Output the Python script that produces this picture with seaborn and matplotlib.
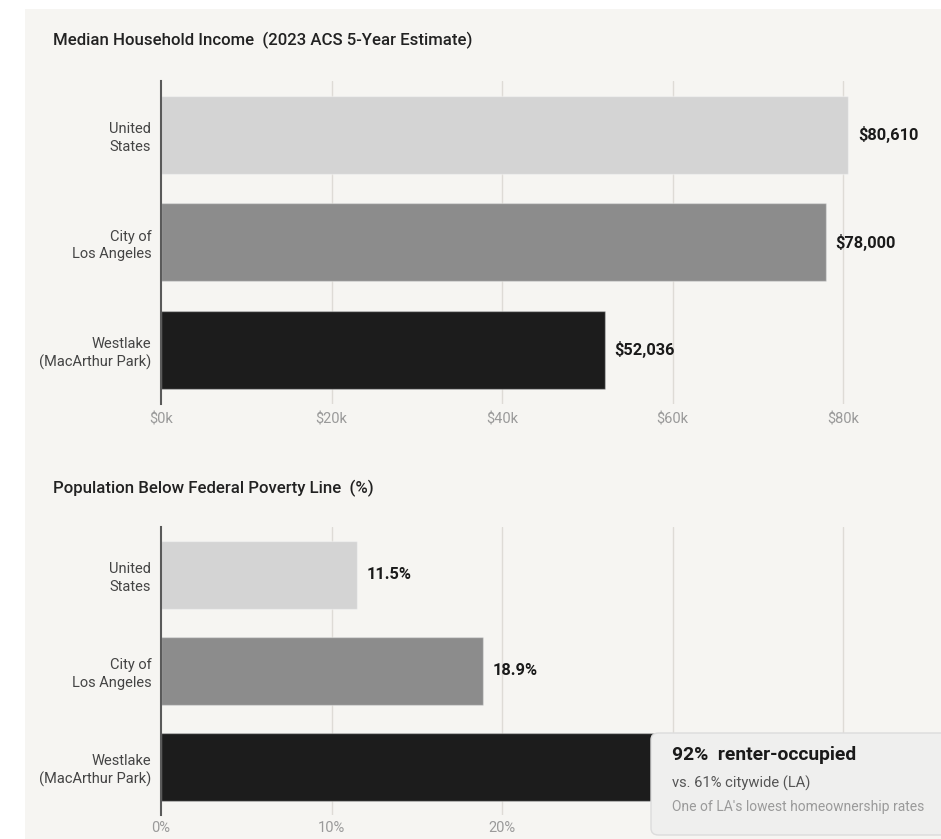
import matplotlib
matplotlib.use("Agg")
import matplotlib.pyplot as plt
from matplotlib.patches import Rectangle, FancyBboxPatch
import seaborn as sns

# Data
areas = ["United\nStates", "City of\nLos Angeles", "Westlake\n(MacArthur Park)"]
income = [80610, 78000, 52036]
income_labels = ["$80,610", "$78,000", "$52,036"]
poverty = [11.5, 18.9, 34.0]  # Westlake value hidden behind the callout (estimate)
poverty_labels = ["11.5%", "18.9%", None]  # its label is covered by the callout
income_ticks = [0, 20000, 40000, 60000, 80000]
income_ticklabels = ["$0k", "$20k", "$40k", "$60k", "$80k"]
poverty_ticks = [0, 10, 20, 30, 40]
poverty_ticklabels = ["0%", "10%", "20%", "30%", "40%"]
bar_colors = ["#d4d4d4", "#8c8c8c", "#1c1c1c"]

# Style
sns.set_style("white")
plt.rcParams["font.family"] = ["Roboto", "DejaVu Sans"]

W, H = 941, 839
CARD = "#f6f5f2"

fig = plt.figure(figsize=(W / 100, H / 100), dpi=100, facecolor="white")
fig.patches.append(Rectangle((25 / W, 0), 1, 1 - 9 / H, transform=fig.transFigure,
                             facecolor=CARD, edgecolor="none", zorder=-10))


def px_axes(left, top, right, bottom):
    return fig.add_axes([left / W, 1 - bottom / H, (right - left) / W, (bottom - top) / H])


def draw_panel(ax, values, labels, ticks, ticklabels, xmax, bar_w, xpad):
    sns.barplot(x=values, y=areas, hue=areas, palette=bar_colors, legend=False,
                orient="h", width=bar_w, ax=ax, edgecolor=(1, 1, 1, 0.35), linewidth=1)
    ax.set_facecolor("none")
    ax.set_xlim(0, xmax)
    ax.set_ylim(2.5, -0.5)
    ax.set_xticks(ticks)
    ax.set_xticklabels(ticklabels)
    ax.set_xlabel("")
    ax.set_ylabel("")
    for t in ticks[1:]:
        ax.axvline(t, color="#dedbd6", linewidth=1, zorder=0)
    for s in ["top", "right", "bottom"]:
        ax.spines[s].set_visible(False)
    ax.spines["left"].set_color("#5a5a5a")
    ax.spines["left"].set_linewidth(1.5)
    ax.tick_params(axis="x", length=0, pad=xpad, labelsize=10.5, labelcolor="#9a9a9a")
    ax.tick_params(axis="y", length=0, pad=7, labelsize=10.5, labelcolor="#444444")
    for lab in ax.get_yticklabels():
        lab.set_linespacing(1.3)
    for i, (v, txt) in enumerate(zip(values, labels)):
        if txt is None:
            continue
        ax.annotate(txt, (v, i), xytext=(7, 0), textcoords="offset points",
                    ha="left", va="center", fontsize=11.8, fontweight="bold", color="#1a1a1a")


# Top panel: income
ax1 = px_axes(161, 81, 161 + 4.5 * 170.5, 403.5)
draw_panel(ax1, income, income_labels, income_ticks, income_ticklabels, 90000, 0.725, 6.5)

# Bottom panel: poverty
ax2 = px_axes(161, 527, 161 + 4.5 * 170.5, 814.5)
draw_panel(ax2, poverty, poverty_labels, poverty_ticks, poverty_ticklabels, 45, 0.71, 5)

fig.text(53 / W, 1 - 40 / H, "Median Household Income  (2023 ACS 5-Year Estimate)",
         fontsize=12.1, fontweight="medium", color="#222222", va="center", ha="left")
fig.text(53 / W, 1 - 488 / H, "Population Below Federal Poverty Line  (%)",
         fontsize=12.1, fontweight="medium", color="#222222", va="center", ha="left")

# Callout box
box = FancyBboxPatch((651 / W, 1 - 835 / H), 320 / W, 102 / H,
                     boxstyle="round,pad=0,rounding_size=0.008", transform=fig.transFigure,
                     facecolor="#efefee", edgecolor="#dcdcdc", linewidth=1, zorder=20)
fig.patches.append(box)
fig.text(672 / W, 1 - 755 / H, "92%  renter-occupied", fontsize=13.9, fontweight="bold",
         color="#1a1a1a", va="center", ha="left", zorder=21)
fig.text(672 / W, 1 - 783 / H, "vs. 61% citywide (LA)", fontsize=10.6,
         color="#555555", va="center", ha="left", zorder=21)
fig.text(672 / W, 1 - 807 / H, "One of LA's lowest homeownership rates", fontsize=10,
         color="#9a9a9a", va="center", ha="left", zorder=21)

fig.savefig("out.png", dpi=100, facecolor=fig.get_facecolor())
